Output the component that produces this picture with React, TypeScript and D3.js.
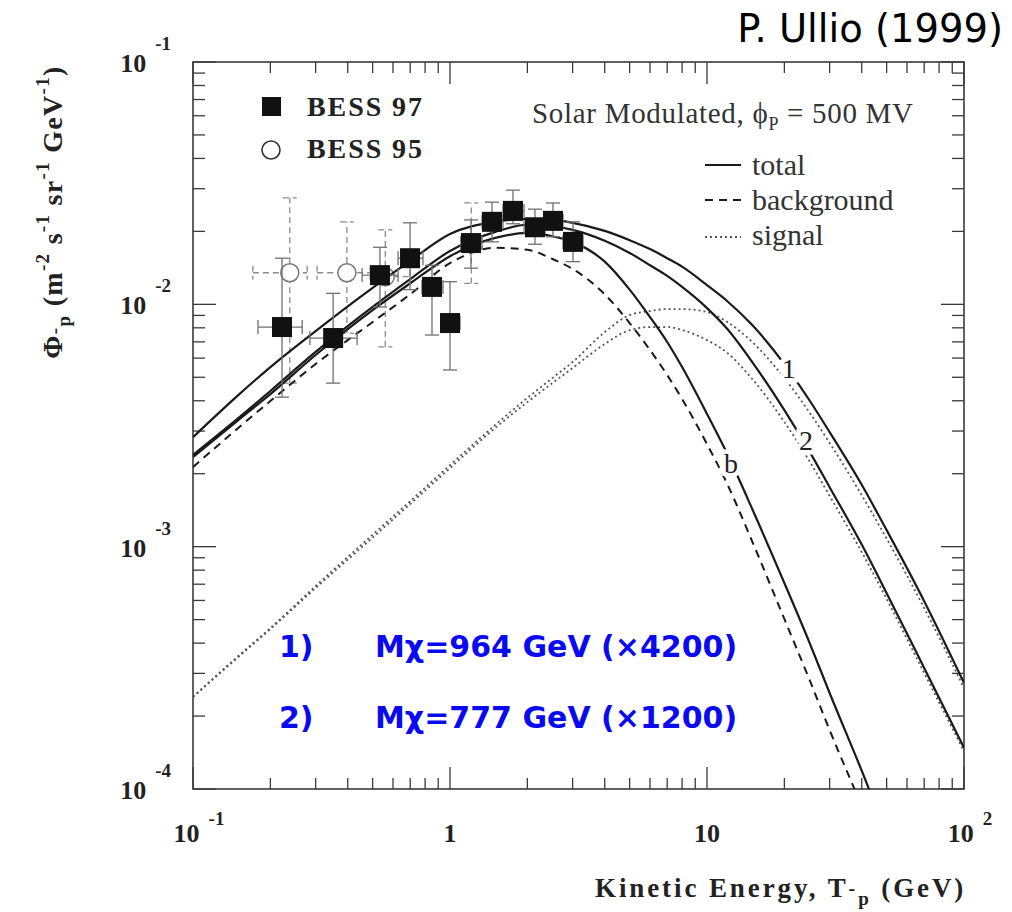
import React from "react";
import * as d3 from "d3";

const energy = [0.1, 0.15, 0.2, 0.3, 0.5, 0.7, 1, 1.5, 2, 2.5, 3, 4, 5, 6, 7, 8, 10, 12, 15, 20, 25, 30, 40, 50, 70, 100];

// antiproton flux (m^-2 s^-1 sr^-1 GeV^-1)
const total1 = [2.83e-3, 4.22e-3, 5.51e-3, 7.76e-3, 1.17e-2, 1.51e-2, 1.95e-2, 2.19e-2, 2.25e-2, 2.23e-2, 2.17e-2, 2.01e-2, 1.84e-2, 1.69e-2, 1.55e-2, 1.43e-2, 1.2e-2, 1.03e-2, 8.21e-3, 5.67e-3, 4.03e-3, 2.97e-3, 1.8e-3, 1.17e-3, 5.96e-4, 2.74e-4];
const total2 = [2.39e-3, 3.39e-3, 4.39e-3, 6.36e-3, 9.75e-3, 1.27e-2, 1.66e-2, 1.99e-2, 2.13e-2, 2.1e-2, 2.03e-2, 1.83e-2, 1.63e-2, 1.45e-2, 1.31e-2, 1.18e-2, 9.65e-3, 7.91e-3, 5.78e-3, 3.66e-3, 2.48e-3, 1.76e-3, 1.02e-3, 6.43e-4, 3.16e-4, 1.48e-4];
const totalB = [2.34e-3, 3.33e-3, 4.26e-3, 6.18e-3, 9.47e-3, 1.22e-2, 1.58e-2, 1.88e-2, 1.97e-2, 1.91e-2, 1.81e-2, 1.5e-2, 1.15e-2, 8.86e-3, 6.99e-3, 5.51e-3, 3.53e-3, 2.41e-3, 1.43e-3, 7.08e-4, 4.04e-4, 2.49e-4, 1.19e-4, 6.52e-5, 2.67e-5, 1.0e-5];
const background = [2.13e-3, 3.09e-3, 3.99e-3, 5.67e-3, 8.45e-3, 1.1e-2, 1.48e-2, 1.71e-2, 1.68e-2, 1.54e-2, 1.4e-2, 1.1e-2, 8.37e-3, 6.48e-3, 5.11e-3, 4.07e-3, 2.65e-3, 1.81e-3, 1.05e-3, 5.03e-4, 2.84e-4, 1.75e-4, 8.5e-5, 4.81e-5, 2.06e-5, 8.4e-6];
const signal1 = [2.4e-4, 3.54e-4, 4.61e-4, 6.88e-4, 1.12e-3, 1.54e-3, 2.17e-3, 3.18e-3, 4.11e-3, 4.96e-3, 5.78e-3, 7.68e-3, 9.03e-3, 9.38e-3, 9.56e-3, 9.56e-3, 9.29e-3, 8.45e-3, 6.99e-3, 4.96e-3, 3.59e-3, 2.68e-3, 1.63e-3, 1.08e-3, 5.58e-4, 2.61e-4];
const signal2 = [2.4e-4, 3.5e-4, 4.57e-4, 6.75e-4, 1.09e-3, 1.5e-3, 2.11e-3, 3.09e-3, 3.95e-3, 4.73e-3, 5.46e-3, 6.86e-3, 7.83e-3, 8.06e-3, 8.06e-3, 7.83e-3, 7.12e-3, 6.3e-3, 4.92e-3, 3.27e-3, 2.26e-3, 1.62e-3, 9.5e-4, 6.08e-4, 3.01e-4, 1.43e-4];

// BESS 97 data
const bess97T = [0.222, 0.351, 0.534, 0.699, 0.851, 1.0, 1.207, 1.457, 1.758, 2.141, 2.516, 3.01];
const bess97TLo = [0.179, 0.285, 0.455, 0.628, 0.778, 0.923, 1.104, 1.332, 1.608, 1.941, 2.342, 2.753];
const bess97THi = [0.266, 0.435, 0.628, 0.785, 0.939, 1.094, 1.332, 1.608, 1.941, 2.342, 2.753, 3.292];
const bess97Flux = [8.06e-3, 7.26e-3, 1.32e-2, 1.55e-2, 1.18e-2, 8.37e-3, 1.79e-2, 2.19e-2, 2.43e-2, 2.08e-2, 2.21e-2, 1.81e-2];
const bess97Hi = [1.55e-2, 1.11e-2, 1.72e-2, 2.17e-2, 1.45e-2, 1.24e-2, 2.23e-2, 2.64e-2, 2.96e-2, 2.47e-2, 2.62e-2, 2.19e-2];
const bess97Lo = [4.14e-3, 4.73e-3, 9.75e-3, 1.15e-2, 7.47e-3, 5.36e-3, 1.41e-2, 1.81e-2, 2.15e-2, 1.77e-2, 1.9e-2, 1.5e-2];

// BESS 95 data (the last two sit under BESS 97 squares)
const bess95T = [0.238, 0.397, 0.56, 1.21];
const bess95TLo = [0.171, 0.304, 0.5, 1.1];
const bess95THi = [0.278, 0.489, 0.7, 1.33];
const bess95Flux = [1.35e-2, 1.35e-2, 1.3e-2, 1.79e-2];
const bess95Hi = [2.75e-2, 2.19e-2, 2.03e-2, 2.62e-2];
const bess95Lo = [4.73e-3, 7.61e-3, 6.67e-3, 1.22e-2];

// curve tags: [text, T, flux]
const curveTags: [string, number, number][] = [
  ["1", 20.8, 5.46e-3],
  ["2", 24.3, 2.73e-3],
  ["b", 12.4, 2.21e-3],
];

const xTickLabels: [number, string, string][] = [
  [0.1, "10", "-1"],
  [1, "1", ""],
  [10, "10", ""],
  [100, "10", "2"],
];
const yTickLabels: [number, string][] = [
  [1e-1, "-1"],
  [1e-2, "-2"],
  [1e-3, "-3"],
  [1e-4, "-4"],
];

const serif = "'Liberation Serif', 'Times New Roman', serif";
const sans = "'DejaVu Sans', Verdana, sans-serif";

export default function App() {
  const left = 193, right = 964, top = 62, bottom = 789;
  const x = d3.scaleLog().domain([0.1, 100]).range([left, right]);
  const y = d3.scaleLog().domain([1e-4, 1e-1]).range([bottom, top]);

  const path = (vals: number[]) =>
    d3
      .line<number>()
      .x((_, i) => x(energy[i]))
      .y((v) => y(v))
      .curve(d3.curveMonotoneX)(vals) || "";

  const isMajor = (v: number) =>
    Math.abs(Math.log10(v) - Math.round(Math.log10(v))) < 1e-6;

  const axisColor = "#3a3a3a";
  const lineColor = "#1a1a1a";

  return (
    <svg
      width={1012}
      height={912}
      style={{ position: "absolute", left: 0, top: 0, background: "#fff" }}
    >
      <defs>
        <clipPath id="plotClip">
          <rect x={left} y={top} width={right - left} height={bottom - top} />
        </clipPath>
      </defs>

      <text x={1003} y={42} textAnchor="end" fontFamily={sans} fontSize={38.5} fill="#000">
        P. Ullio (1999)
      </text>

      {/* ticks */}
      <g stroke={axisColor} strokeWidth={1.3}>
        {x.ticks().map((t, i) => {
          const len = isMajor(t) ? 22 : 11;
          return (
            <g key={"xt" + i}>
              <line x1={x(t)} x2={x(t)} y1={bottom} y2={bottom - len} />
              <line x1={x(t)} x2={x(t)} y1={top} y2={top + len} />
            </g>
          );
        })}
        {y.ticks().map((t, i) => {
          const len = isMajor(t) ? 23 : 12;
          return (
            <g key={"yt" + i}>
              <line x1={left} x2={left + len} y1={y(t)} y2={y(t)} />
              <line x1={right} x2={right - len} y1={y(t)} y2={y(t)} />
            </g>
          );
        })}
      </g>
      <rect
        x={left}
        y={top}
        width={right - left}
        height={bottom - top}
        fill="none"
        stroke={axisColor}
        strokeWidth={1.6}
      />

      {/* tick labels */}
      <g fontFamily={serif} fontWeight="bold" fill="#222">
        {xTickLabels.map(([v, base, exp], i) => (
          <text key={"xl" + i} x={x(v) + (exp ? 6 : 0)} y={842} textAnchor="middle" fontSize={26}>
            {base}
            {exp && (
              <tspan dx={9} dy={-17} fontSize={19}>
                {exp}
              </tspan>
            )}
          </text>
        ))}
        {yTickLabels.map(([v, exp], i) => (
          <text key={"yl" + i} x={171} y={y(v) + 10} textAnchor="end" fontSize={26}>
            10
            <tspan dx={9} dy={-22} fontSize={19}>
              {exp}
            </tspan>
          </text>
        ))}
      </g>

      {/* axis titles */}
      <text
        x={595}
        y={897}
        fontFamily={serif}
        fontWeight="bold"
        fontSize={27}
        letterSpacing={2.9}
        fill="#222"
      >
        Kinetic Energy, T
        <tspan fontSize={20} dy={-2}>-</tspan>
        <tspan fontSize={19} dy={10}>p</tspan>
        <tspan dy={-8}> (GeV)</tspan>
      </text>
      <text
        transform="translate(62,212) rotate(-90)"
        textAnchor="middle"
        fontFamily={serif}
        fontWeight="bold"
        fontSize={28}
        letterSpacing={1.3}
        fill="#222"
      >
        Φ
        <tspan fontSize={19} dy={-1}>-</tspan>
        <tspan fontSize={19} dy={9}>p</tspan>
        <tspan dy={-8}> (m</tspan>
        <tspan fontSize={19} dy={-13}>-2</tspan>
        <tspan dy={13}> s</tspan>
        <tspan fontSize={19} dy={-13}>-1</tspan>
        <tspan dy={13}> sr</tspan>
        <tspan fontSize={19} dy={-13}>-1</tspan>
        <tspan dy={13}> GeV</tspan>
        <tspan fontSize={19} dy={-13}>-1</tspan>
        <tspan dy={13}>)</tspan>
      </text>

      {/* BESS 95 */}
      <g stroke="#8a8a8a" strokeWidth={1.3} strokeDasharray="6 4" fill="none">
        {bess95T.map((t, i) => (
          <g key={"b95" + i}>
            <line x1={x(t)} x2={x(t)} y1={y(bess95Lo[i])} y2={y(bess95Hi[i])} />
            <line x1={x(bess95TLo[i])} x2={x(bess95THi[i])} y1={y(bess95Flux[i])} y2={y(bess95Flux[i])} />
            <line x1={x(t) - 7} x2={x(t) + 7} y1={y(bess95Lo[i])} y2={y(bess95Lo[i])} />
            <line x1={x(t) - 7} x2={x(t) + 7} y1={y(bess95Hi[i])} y2={y(bess95Hi[i])} />
            <line x1={x(bess95TLo[i])} x2={x(bess95TLo[i])} y1={y(bess95Flux[i]) - 7} y2={y(bess95Flux[i]) + 7} />
            <line x1={x(bess95THi[i])} x2={x(bess95THi[i])} y1={y(bess95Flux[i]) - 7} y2={y(bess95Flux[i]) + 7} />
          </g>
        ))}
      </g>
      {bess95T.map((t, i) => (
        <circle key={"c95" + i} cx={x(t)} cy={y(bess95Flux[i])} r={9} fill="#fff" stroke="#777" strokeWidth={1.5} />
      ))}

      {/* model curves */}
      <g clipPath="url(#plotClip)" fill="none">
        <path d={path(signal1)} stroke="#555" strokeWidth={1.8} strokeDasharray="2 3" />
        <path d={path(signal2)} stroke="#555" strokeWidth={1.8} strokeDasharray="2 3" />
        <path d={path(background)} stroke={lineColor} strokeWidth={2} strokeDasharray="8 6" />
        <path d={path(totalB)} stroke={lineColor} strokeWidth={2.2} />
        <path d={path(total2)} stroke={lineColor} strokeWidth={2.2} />
        <path d={path(total1)} stroke={lineColor} strokeWidth={2.2} />
      </g>

      {/* curve tags, white halo breaks the lines */}
      <g fontFamily={serif} fontSize={28} fill="#222">
        {curveTags.map(([t, e, f], i) => (
          <text
            key={"tag" + i}
            x={x(e)}
            y={y(f)}
            textAnchor="middle"
            dominantBaseline="central"
            stroke="#fff"
            strokeWidth={9}
            paintOrder="stroke"
          >
            {t}
          </text>
        ))}
      </g>

      {/* BESS 97 */}
      <g stroke="#707070" strokeWidth={1.3}>
        {bess97T.map((t, i) => (
          <g key={"b97" + i}>
            <line x1={x(t)} x2={x(t)} y1={y(bess97Lo[i])} y2={y(bess97Hi[i])} />
            <line x1={x(bess97TLo[i])} x2={x(bess97THi[i])} y1={y(bess97Flux[i])} y2={y(bess97Flux[i])} />
            <line x1={x(t) - 7} x2={x(t) + 7} y1={y(bess97Lo[i])} y2={y(bess97Lo[i])} />
            <line x1={x(t) - 7} x2={x(t) + 7} y1={y(bess97Hi[i])} y2={y(bess97Hi[i])} />
            <line x1={x(bess97TLo[i])} x2={x(bess97TLo[i])} y1={y(bess97Flux[i]) - 7} y2={y(bess97Flux[i]) + 7} />
            <line x1={x(bess97THi[i])} x2={x(bess97THi[i])} y1={y(bess97Flux[i]) - 7} y2={y(bess97Flux[i]) + 7} />
          </g>
        ))}
      </g>
      {bess97T.map((t, i) => (
        <rect key={"s97" + i} x={x(t) - 10} y={y(bess97Flux[i]) - 10} width={20} height={20} fill="#111" />
      ))}

      {/* legends */}
      <rect x={262} y={97} width={19} height={19} fill="#111" />
      <circle cx={271} cy={150} r={9} fill="#fff" stroke="#333" strokeWidth={1.6} />
      <g fontFamily={serif} fontWeight="bold" fontSize={28} fill="#222">
        <text x={307} y={116} textLength={115}>BESS 97</text>
        <text x={307} y={158} textLength={115}>BESS 95</text>
      </g>
      <text x={532} y={123} fontFamily={serif} fontSize={29} fill="#333" textLength={381}>
        Solar Modulated, ϕ
        <tspan fontSize={18} dy={7}>P</tspan>
        <tspan dy={-7}> = 500 MV</tspan>
      </text>
      <g stroke={lineColor} fill="none">
        <line x1={705} x2={741} y1={165} y2={165} strokeWidth={2.2} />
        <line x1={705} x2={741} y1={200} y2={200} strokeWidth={2} strokeDasharray="8 6" />
        <line x1={705} x2={741} y1={237} y2={237} stroke="#555" strokeWidth={1.8} strokeDasharray="2 3" />
      </g>
      <g fontFamily={serif} fontSize={30} fill="#333">
        <text x={752} y={175}>total</text>
        <text x={752} y={210}>background</text>
        <text x={752} y={245}>signal</text>
      </g>

      {/* model annotations */}
      <g fontFamily={sans} fontWeight="bold" fontSize={30} fill="#0a0af0">
        <text x={279} y={657}>1)</text>
        <text x={375} y={657}>Mχ=964 GeV (×4200)</text>
        <text x={279} y={728}>2)</text>
        <text x={375} y={728}>Mχ=777 GeV (×1200)</text>
      </g>
    </svg>
  );
}
